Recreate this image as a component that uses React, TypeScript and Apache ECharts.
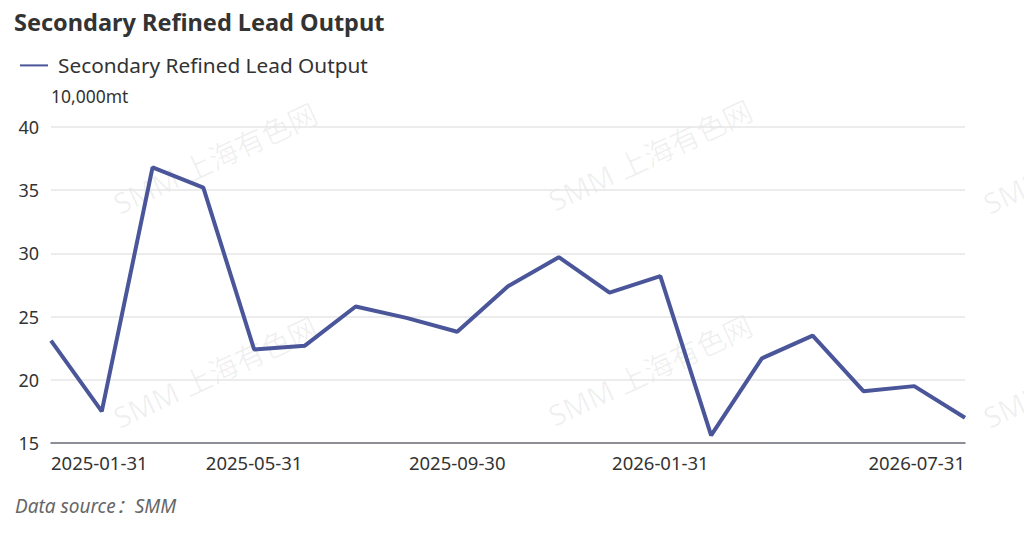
import React, { useEffect, useRef } from "react";
import * as echarts from "echarts";

const categories: string[] = [
  "2025-01-31", "2025-02-28", "2025-03-31", "2025-04-30", "2025-05-31",
  "2025-06-30", "2025-07-31", "2025-08-31", "2025-09-30", "2025-10-31",
  "2025-11-30", "2025-12-31", "2026-01-31", "2026-02-28", "2026-03-31",
  "2026-04-30", "2026-05-31", "2026-06-30", "2026-07-31",
];
const outputValues: number[] = [
  23.1, 17.5, 36.8, 35.2, 22.4, 22.7, 25.8, 24.9, 23.8, 27.4,
  29.7, 26.9, 28.2, 15.6, 21.7, 23.5, 19.1, 19.5, 17.0,
];
const shownLabelIndexes: number[] = [0, 4, 8, 12, 18];
const seriesName = "Secondary Refined Lead Output";
const unitName = "10,000mt";
const titleText = "Secondary Refined Lead Output";
const sourceText = "Data source：SMM";
const watermarkText = "SMM 上海有色网";
const watermarkCenters: number[][] = [
  [215, 158], [650, 155], [1085, 158],
  [215, 372], [650, 370], [1085, 372],
];

const FONT = "'Noto Sans', 'Noto Sans CJK SC', sans-serif";

export default function App() {
  const ref = useRef<HTMLDivElement>(null);
  useEffect(() => {
    document.body.style.margin = "0";
    if (!ref.current) return;
    const chart = echarts.init(ref.current, undefined, { renderer: "svg" });
    chart.setOption({
      animation: false,
      backgroundColor: "#ffffff",
      textStyle: { fontFamily: FONT },
      title: {
        text: titleText,
        left: 14,
        top: 10,
        padding: 0,
        textStyle: { fontFamily: FONT, fontSize: 23.5, fontWeight: "bold", color: "#333333" },
      },
      legend: {
        data: [seriesName],
        left: 20,
        top: 55,
        padding: 0,
        itemWidth: 28,
        itemHeight: 14,
        itemGap: 10,
        icon: "path://M0,6 L28,6 L28,8 L0,8 Z",
        textStyle: { fontFamily: FONT, fontSize: 20.8, color: "#333333", padding: [0, 0, 0, 5] },
      },
      grid: { left: 51, right: 59, top: 127, bottom: 92, containLabel: false },
      xAxis: {
        type: "category",
        data: categories,
        boundaryGap: false,
        axisLine: { lineStyle: { color: "#6e7079", width: 1.5 } },
        axisTick: { show: false },
        axisLabel: {
          interval: (index: number) => shownLabelIndexes.includes(index),
          alignMinLabel: "left",
          alignMaxLabel: "right",
          showMaxLabel: true,
          hideOverlap: false,
          margin: 10,
          fontFamily: FONT,
          fontSize: 18.5,
          color: "#333333",
        },
      },
      yAxis: {
        type: "value",
        min: 15,
        max: 40,
        interval: 5,
        name: unitName,
        nameLocation: "end",
        nameGap: 31,
        nameTextStyle: {
          fontFamily: FONT,
          fontSize: 17.5,
          color: "#333333",
          align: "left",
          verticalAlign: "middle",
        },
        axisLine: { show: false },
        axisTick: { show: false },
        axisLabel: { margin: 12, fontFamily: FONT, fontSize: 18, color: "#333333" },
        splitLine: { lineStyle: { color: "#e6e6e6", width: 1.5 } },
      },
      graphic: [
        ...watermarkCenters.map((c) => ({
          type: "text",
          x: c[0],
          y: c[1],
          rotation: (25 * Math.PI) / 180,
          z: -10,
          silent: true,
          style: {
            text: watermarkText,
            fontFamily: FONT,
            fontSize: 29,
            fill: "rgba(0,0,0,0.06)",
            align: "center",
            verticalAlign: "middle",
          },
        })),
        {
          type: "text",
          left: 15,
          top: 496,
          style: {
            text: sourceText,
            fontFamily: FONT,
            fontSize: 19,
            fontStyle: "italic",
            fill: "#666666",
          },
        },
      ],
      series: [
        {
          name: seriesName,
          type: "line",
          data: outputValues,
          showSymbol: false,
          symbol: "none",
          lineStyle: { color: "#4a5699", width: 4 },
          itemStyle: { color: "#4a5699" },
          z: 5,
        },
      ],
    });
    return () => chart.dispose();
  }, []);
  return <div ref={ref} style={{ width: 1024, height: 535 }} />;
}
